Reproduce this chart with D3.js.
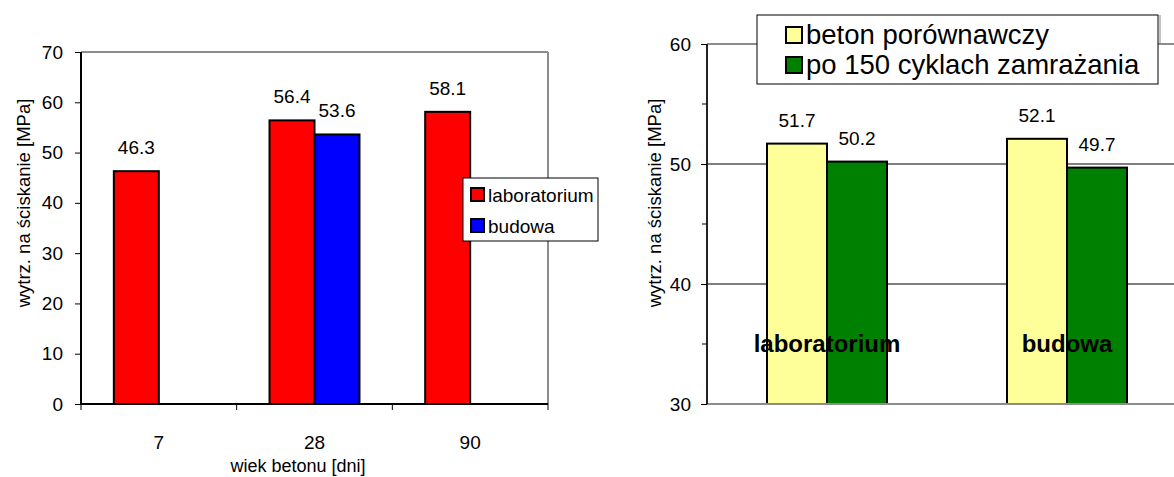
<!DOCTYPE html>
<html>
<head>
<meta charset="utf-8">
<script src="https://cdn.jsdelivr.net/npm/d3@7"></script>
<style>
  html, body { margin: 0; padding: 0; background: #fff; }
  svg { display: block; font-family: "Liberation Sans", Arial, sans-serif; }
</style>
</head>
<body>
<svg id="chart" width="1174" height="477"></svg>
<script>
// Left chart: strength by concrete age
const ageCategories = ["7", "28", "90"];
const labValues = [46.3, 56.4, 58.1];
const siteValues = [null, 53.6, null];
const leftSeriesNames = ["laboratorium", "budowa"];
const leftColors = ["#ff0000", "#0000ff"];
const leftTicks = [0, 10, 20, 30, 40, 50, 60, 70];

// Right chart: reference vs after freeze-thaw cycles
const placeCategories = ["laboratorium", "budowa"];
const referenceValues = [51.7, 52.1];
const frozenValues = [50.2, 49.7];
const rightSeriesNames = ["beton porównawczy", "po 150 cyklach zamrażania"];
const rightColors = ["#ffff99", "#008000"];
const rightMajorTicks = [30, 40, 50, 60];
const rightMinorTicks = [35, 45, 55];

const yTitle = "wytrz. na ściskanie [MPa]";
const xTitleLeft = "wiek betonu [dni]";

const svg = d3.select("#chart");

// ---------- left chart ----------
(function () {
  const L = 81, R = 548, T = 52, B = 404;
  const g = svg.append("g");
  const x = d3.scaleBand().domain(ageCategories).range([L, R])
    .paddingInner(0.422).paddingOuter(0.211);
  const xs = d3.scaleBand().domain(leftSeriesNames).range([0, x.bandwidth()]);
  const y = d3.scaleLinear().domain([0, 70]).range([B, T]);

  // plot frame (top & right in grey)
  g.append("line").attr("x1", L).attr("x2", R).attr("y1", T).attr("y2", T)
    .attr("stroke", "#8c8c8c").attr("stroke-width", 2);
  g.append("line").attr("x1", R).attr("x2", R).attr("y1", T).attr("y2", B)
    .attr("stroke", "#8c8c8c").attr("stroke-width", 2);

  const rows = ageCategories.map((c, i) => ({ cat: c, vals: [labValues[i], siteValues[i]] }));
  const bars = [];
  rows.forEach(r => r.vals.forEach((v, j) => {
    if (v != null) bars.push({ cat: r.cat, s: leftSeriesNames[j], v, color: leftColors[j] });
  }));

  g.selectAll("rect.bar").data(bars).join("rect").attr("class", "bar")
    .attr("x", d => x(d.cat) + xs(d.s))
    .attr("width", xs.bandwidth())
    .attr("y", d => y(d.v))
    .attr("height", d => y(0) - y(d.v))
    .attr("fill", d => d.color)
    .attr("stroke", "#000").attr("stroke-width", 2);

  g.selectAll("text.val").data(bars).join("text").attr("class", "val")
    .attr("x", d => x(d.cat) + xs(d.s) + xs.bandwidth() / 2)
    .attr("y", d => y(d.v) - 17)
    .attr("text-anchor", "middle").attr("font-size", 19).text(d => d.v.toFixed(1));

  // y axis
  const ya = g.append("g").attr("transform", `translate(${L},0)`)
    .call(d3.axisLeft(y).tickValues(leftTicks).tickSize(6).tickPadding(12));
  ya.selectAll("text").attr("font-size", 19).attr("fill", "#000");
  ya.selectAll("line").attr("stroke", "#000");
  ya.select(".domain").attr("stroke", "#000").attr("stroke-width", 2)
    .attr("d", `M0,${B}V${T}`);

  // x axis: ticks at category boundaries
  const bounds = [L].concat(ageCategories.map(c => x(c) + x.bandwidth() + x.step() * x.paddingInner() / 2));
  g.append("line").attr("x1", L).attr("x2", R).attr("y1", B).attr("y2", B)
    .attr("stroke", "#000").attr("stroke-width", 2);
  g.selectAll("line.xt").data(bounds).join("line").attr("class", "xt")
    .attr("x1", d => d).attr("x2", d => d).attr("y1", B).attr("y2", B + 6)
    .attr("stroke", "#000");
  g.selectAll("text.xl").data(ageCategories).join("text").attr("class", "xl")
    .attr("x", d => x(d) + x.bandwidth() / 2).attr("y", 449)
    .attr("text-anchor", "middle").attr("font-size", 19).text(d => d);

  g.append("text").attr("x", 298).attr("y", 472)
    .attr("text-anchor", "middle").attr("font-size", 18).text(xTitleLeft);

  g.append("text").attr("transform", "translate(30,203) rotate(-90)")
    .attr("text-anchor", "middle").attr("font-size", 18.5).text(yTitle);

  // legend
  const lg = g.append("g").attr("transform", "translate(463,178)");
  lg.append("rect").attr("width", 135).attr("height", 63)
    .attr("fill", "#fff").attr("stroke", "#000").attr("stroke-width", 1);
  leftSeriesNames.forEach((n, i) => {
    lg.append("rect").attr("x", 8).attr("y", 10 + i * 31).attr("width", 13).attr("height", 13)
      .attr("fill", leftColors[i]).attr("stroke", "#000").attr("stroke-width", 2);
    lg.append("text").attr("x", 25).attr("y", 24 + i * 31).attr("font-size", 19).text(n);
  });
})();

// ---------- right chart ----------
(function () {
  const L = 707, R = 1187, T = 44, B = 404;
  const g = svg.append("g");
  const x = d3.scaleBand().domain(placeCategories).range([L, R])
    .paddingInner(0.5).paddingOuter(0.25);
  const xs = d3.scaleBand().domain(rightSeriesNames).range([0, x.bandwidth()]);
  const y = d3.scaleLinear().domain([30, 60]).range([B, T]);

  // gridlines
  g.selectAll("line.grid").data([40, 50]).join("line").attr("class", "grid")
    .attr("x1", L).attr("x2", R).attr("y1", d => y(d)).attr("y2", d => y(d))
    .attr("stroke", "#000").attr("stroke-width", 1);
  g.append("line").attr("x1", L).attr("x2", R).attr("y1", y(60)).attr("y2", y(60))
    .attr("stroke", "#8c8c8c").attr("stroke-width", 2);
  g.append("line").attr("x1", 1160).attr("x2", 1160).attr("y1", 15).attr("y2", y(60))
    .attr("stroke", "#8c8c8c").attr("stroke-width", 1);

  const bars = [];
  placeCategories.forEach((c, i) => {
    [referenceValues[i], frozenValues[i]].forEach((v, j) =>
      bars.push({ cat: c, s: rightSeriesNames[j], v, color: rightColors[j] }));
  });

  g.selectAll("rect.bar").data(bars).join("rect").attr("class", "bar")
    .attr("x", d => x(d.cat) + xs(d.s))
    .attr("width", xs.bandwidth())
    .attr("y", d => y(d.v))
    .attr("height", d => y(30) - y(d.v))
    .attr("fill", d => d.color)
    .attr("stroke", "#000").attr("stroke-width", 2);

  g.selectAll("text.val").data(bars).join("text").attr("class", "val")
    .attr("x", d => x(d.cat) + xs(d.s) + xs.bandwidth() / 2)
    .attr("y", d => y(d.v) - 17)
    .attr("text-anchor", "middle").attr("font-size", 19).text(d => d.v.toFixed(1));

  // category names drawn inside the plot
  g.selectAll("text.cat").data(placeCategories).join("text").attr("class", "cat")
    .attr("x", d => x(d) + x.bandwidth() / 2).attr("y", 352)
    .attr("text-anchor", "middle").attr("font-size", 24).attr("font-weight", "bold")
    .text(d => d);

  // bottom axis line
  g.append("line").attr("x1", L).attr("x2", R).attr("y1", B).attr("y2", B)
    .attr("stroke", "#8c8c8c").attr("stroke-width", 2);

  // y axis with minor ticks
  const ya = g.append("g").attr("transform", `translate(${L},0)`)
    .call(d3.axisLeft(y).tickValues(rightMajorTicks).tickSize(6).tickPadding(10));
  ya.selectAll("text").attr("font-size", 19).attr("fill", "#000");
  ya.selectAll("line").attr("stroke", "#000");
  ya.select(".domain").attr("stroke", "#222").attr("stroke-width", 2)
    .attr("d", `M0,${B}V${T}`);
  g.selectAll("line.minor").data(rightMinorTicks).join("line").attr("class", "minor")
    .attr("x1", L - 5).attr("x2", L).attr("y1", d => y(d)).attr("y2", d => y(d))
    .attr("stroke", "#000");

  g.append("text").attr("transform", "translate(661,203) rotate(-90)")
    .attr("text-anchor", "middle").attr("font-size", 18.5).text(yTitle);

  // legend
  const lg = g.append("g").attr("transform", "translate(757,15)");
  lg.append("rect").attr("width", 401).attr("height", 69)
    .attr("fill", "#fff").attr("stroke", "#000").attr("stroke-width", 1);
  rightSeriesNames.forEach((n, i) => {
    lg.append("rect").attr("x", 29).attr("y", 12 + i * 30).attr("width", 16).attr("height", 16)
      .attr("fill", rightColors[i]).attr("stroke", "#000").attr("stroke-width", 2);
    lg.append("text").attr("x", 49).attr("y", 29 + i * 30).attr("font-size", 27.5).text(n);
  });
})();
</script>
</body>
</html>
